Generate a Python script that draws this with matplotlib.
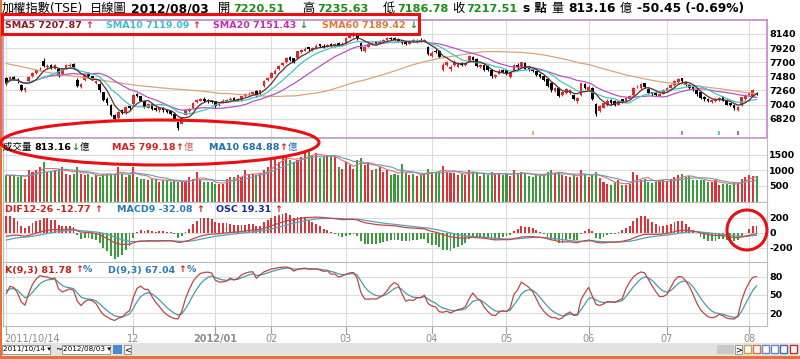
import matplotlib.pyplot as plt
from matplotlib.patches import Rectangle, Ellipse
from matplotlib.transforms import blended_transform_factory
import numpy as np
import pandas as pd

# TAIEX daily candles 2011/10/14 - 2012/08/03
open_ = [7448, 7420, 7470, 7430, 7345, 7260, 7400, 7480, 7530, 7590,
         7720, 7620, 7650, 7600, 7600, 7520, 7610, 7640, 7670, 7430,
         7320, 7420, 7520, 7480, 7380, 7360, 7230, 7130, 7040, 6880,
         6830, 6950, 6920, 7010, 7050, 7200, 7170, 7100, 6990, 7050,
         6990, 6950, 6990, 6950, 6940, 6900, 6760, 6740, 6880, 6940,
         6980, 7080, 7100, 7130, 7110, 7100, 7090, 7030, 7070, 7090,
         7110, 7140, 7100, 7110, 7170, 7190, 7210, 7250, 7200, 7330,
         7420, 7460, 7520, 7590, 7650, 7700, 7780, 7760, 7760, 7860,
         7880, 7930, 7890, 7920, 7980, 7960, 7940, 7990, 7950, 8000,
         7960, 8000, 8080, 8110, 8150, 8000, 7870, 7940, 7980, 8020,
         7990, 8020, 8040, 8080, 8070, 8060, 8040, 8010, 7990, 8040,
         8010, 8050, 8020, 7940, 7800, 7880, 7880, 7580, 7650, 7590,
         7650, 7630, 7690, 7650, 7710, 7780, 7750, 7630, 7660, 7640,
         7580, 7470, 7520, 7580, 7580, 7470, 7560, 7660, 7620, 7690,
         7610, 7600, 7560, 7520, 7480, 7440, 7380, 7250, 7300, 7190,
         7220, 7220, 7190, 7090, 7190, 7360, 7270, 7300, 7050,
         6940, 6990, 7030, 7110, 7100, 7040, 7120, 7090, 7130, 7190,
         7310, 7290, 7370, 7280, 7230, 7230, 7180, 7210, 7250, 7300,
         7340, 7390, 7450, 7390, 7340, 7320, 7270, 7230, 7150, 7130,
         7080, 7090, 7110, 7160, 7110, 7060, 7040, 6960, 7030, 7120,
         7190, 7160, 7220.51]
high = [7470, 7490, 7485, 7450, 7360, 7310, 7480, 7545, 7600, 7630,
        7760, 7670, 7665, 7665, 7610, 7610, 7670, 7690, 7690, 7450,
        7380, 7510, 7540, 7490, 7430, 7370, 7240, 7150, 7050, 6900,
        6940, 6970, 7010, 7030, 7200, 7220, 7180, 7110, 7070, 7060,
        7000, 7000, 7000, 6970, 6960, 6910, 6770, 6850, 6960, 6990,
        7080, 7130, 7140, 7150, 7120, 7110, 7100, 7080, 7120, 7130,
        7150, 7150, 7140, 7180, 7220, 7230, 7250, 7260, 7270, 7420,
        7470, 7540, 7590, 7650, 7700, 7780, 7800, 7770, 7880, 7910,
        7930, 7940, 7940, 7980, 7990, 7980, 7990, 8000, 8000, 8010,
        8010, 8100, 8140, 8170, 8160, 8010, 7950, 8010, 8020, 8030,
        8040, 8060, 8090, 8100, 8090, 8080, 8050, 8020, 8050, 8060,
        8060, 8070, 8060, 7950, 7870, 7900, 7890, 7680, 7720, 7650,
        7730, 7700, 7710, 7710, 7810, 7800, 7760, 7670, 7670, 7650,
        7590, 7520, 7590, 7600, 7590, 7550, 7670, 7680, 7710, 7700,
        7630, 7610, 7570, 7530, 7490, 7450, 7390, 7310, 7310, 7250,
        7290, 7280, 7200, 7150, 7380, 7370, 7340, 7310, 7060,
        7030, 7080, 7120, 7120, 7110, 7100, 7130, 7160, 7190, 7310,
        7340, 7380, 7380, 7290, 7240, 7240, 7220, 7280, 7310, 7360,
        7420, 7460, 7460, 7400, 7350, 7330, 7280, 7240, 7170, 7140,
        7120, 7140, 7160, 7170, 7120, 7070, 7050, 7020, 7160, 7200,
        7240, 7280, 7235.63]
low = [7350, 7405, 7415, 7380, 7250, 7230, 7390, 7470, 7520, 7570,
       7630, 7600, 7590, 7590, 7470, 7500, 7600, 7630, 7600, 7310,
       7290, 7410, 7470, 7420, 7360, 7240, 7100, 7040, 6860, 6790,
       6810, 6890, 6900, 6960, 7040, 7160, 7090, 6980, 6980, 6950,
       6940, 6930, 6930, 6910, 6880, 6790, 6640, 6730, 6870, 6920,
       6970, 7060, 7090, 7080, 7070, 7060, 6990, 7010, 7060, 7080,
       7100, 7090, 7090, 7100, 7160, 7180, 7200, 7160, 7190, 7320,
       7410, 7450, 7510, 7580, 7640, 7690, 7720, 7680, 7750, 7850,
       7870, 7880, 7880, 7910, 7930, 7920, 7930, 7950, 7940, 7950,
       7950, 7990, 8070, 8100, 8050, 7880, 7860, 7930, 7970, 7980,
       7980, 8010, 8030, 8050, 8040, 8010, 7990, 7970, 7980, 8010,
       8000, 8020, 8010, 7810, 7780, 7840, 7760, 7560, 7640, 7570,
       7640, 7620, 7640, 7640, 7700, 7730, 7620, 7610, 7560, 7570,
       7460, 7450, 7510, 7530, 7500, 7450, 7550, 7600, 7610, 7590,
       7570, 7540, 7490, 7450, 7410, 7310, 7240, 7230, 7150, 7170,
       7210, 7200, 7110, 7070, 7180, 7280, 7260, 7110, 6860,
       6920, 6980, 7020, 7040, 7020, 7030, 7060, 7080, 7120, 7180,
       7290, 7280, 7300, 7200, 7180, 7170, 7170, 7200, 7240, 7290,
       7330, 7380, 7380, 7330, 7280, 7250, 7180, 7120, 7100, 7080,
       7070, 7080, 7100, 7090, 7030, 7010, 6960, 6940, 7020, 7110,
       7180, 7150, 7186.78]
close = [7370, 7474, 7430, 7400, 7270, 7290, 7470, 7530, 7580, 7600,
         7640, 7640, 7610, 7650, 7480, 7600, 7650, 7660, 7620, 7330,
         7360, 7500, 7480, 7440, 7400, 7260, 7110, 7070, 6880, 6820,
         6930, 6910, 7000, 6980, 7190, 7180, 7100, 7000, 7050, 6970,
         6960, 6980, 6950, 6930, 6900, 6810, 6680, 6840, 6950, 6960,
         7070, 7110, 7120, 7100, 7090, 7080, 7010, 7070, 7100, 7110,
         7130, 7100, 7120, 7170, 7200, 7210, 7230, 7180, 7260, 7410,
         7450, 7530, 7570, 7640, 7680, 7760, 7740, 7700, 7870, 7890,
         7910, 7900, 7920, 7960, 7950, 7940, 7970, 7960, 7980, 7970,
         7990, 8080, 8120, 8140, 8070, 7900, 7930, 7990, 8000, 7990,
         8020, 8040, 8070, 8060, 8050, 8030, 8000, 7990, 8030, 8020,
         8040, 8030, 8040, 7830, 7850, 7860, 7780, 7660, 7700, 7630,
         7710, 7680, 7660, 7690, 7790, 7740, 7640, 7650, 7580, 7580,
         7480, 7500, 7570, 7550, 7510, 7540, 7660, 7620, 7700, 7600,
         7590, 7560, 7500, 7470, 7430, 7330, 7260, 7290, 7170, 7230,
         7280, 7260, 7130, 7140, 7370, 7300, 7320, 7130, 6900,
         7010, 7070, 7100, 7060, 7040, 7090, 7080, 7140, 7170, 7300,
         7320, 7360, 7320, 7220, 7200, 7190, 7200, 7270, 7290, 7350,
         7410, 7440, 7400, 7345, 7300, 7265, 7200, 7135, 7125, 7095,
         7105, 7125, 7143, 7100, 7040, 7030, 6980, 7001.55, 7150, 7180,
         7223.88, 7267.96, 7217.51]
# 成交量 (億)
volume = [840, 840, 840, 790, 840, 730, 1000, 950, 1000, 1110,
          1270, 950, 950, 1000, 1050, 1100, 890, 840, 890, 1110,
          890, 840, 890, 790, 840, 790, 890, 890, 890, 890,
          1110, 890, 790, 840, 1110, 790, 730, 730, 680, 730,
          730, 620, 680, 680, 620, 680, 620, 620, 620, 790,
          730, 950, 680, 620, 620, 620, 570, 570, 570, 730,
          790, 790, 840, 790, 1000, 890, 890, 840, 890, 1000,
          1110, 1320, 1380, 1270, 1430, 1490, 1320, 1270, 1320, 1430,
          1540, 1590, 1490, 1540, 1380, 1430, 1490, 1490, 1430, 1110,
          1050, 1270, 1160, 1050, 1320, 1380, 1160, 1270, 1000, 1050,
          1110, 950, 1000, 840, 890, 840, 1200, 900, 850, 880,
          820, 860, 900, 1050, 950, 900, 980, 1150, 950, 900,
          920, 850, 880, 860, 1000, 950, 900, 820, 880, 850,
          950, 870, 900, 860, 880, 830, 1000, 900, 950, 870,
          820, 800, 850, 820, 880, 950, 1000, 900, 950, 850,
          820, 800, 850, 800, 1000, 850, 780, 850, 950,
          750, 630, 570, 516, 620, 680, 516, 516, 570, 950,
          840, 700, 730, 620, 590, 620, 680, 680, 620, 730,
          790, 840, 890, 790, 810, 700, 680, 700, 680, 620,
          620, 680, 520, 570, 560, 540, 580, 602.9, 720, 800,
          840, 822.74, 813.16]
# SMA60 line on the first 59 days (its 60-day window starts before the chart)
sma60_head = [7680, 7667, 7655, 7644, 7631, 7618, 7606, 7592, 7579, 7566,
              7553, 7541, 7532, 7523, 7515, 7508, 7499, 7491, 7484, 7475,
              7467, 7459, 7451, 7443, 7433, 7424, 7416, 7406, 7397, 7389,
              7379, 7371, 7361, 7353, 7345, 7338, 7332, 7326, 7319, 7314,
              7309, 7303, 7297, 7292, 7287, 7283, 7279, 7274, 7269, 7265,
              7260, 7256, 7251, 7245, 7238, 7231, 7224, 7217, 7210]

month_pos = [0, 34, 56, 71, 91, 114, 134, 156, 177, 199]
month_lbl = ['2011/10/14', '12', '2012/01', '02', '03', '04', '05', '06', '07', '08']
event_pos = [141, 181, 191, 196]
event_col = ['#e8a040', '#c060c0', '#40c0d0', '#806080']

# indicator state just before the first day
ema12_init, ema26_init, dea_init = 7400.0, 7450.0, -110.0
k_init, d_init = 70.0, 60.0

# ---- indicators
c = pd.Series(close, dtype=float)
sma5 = c.rolling(5, min_periods=1).mean()
sma10 = c.rolling(10, min_periods=1).mean()
sma20 = c.rolling(20, min_periods=1).mean()
sma60 = c.rolling(60).mean()
sma60.iloc[:len(sma60_head)] = sma60_head

v = pd.Series(volume, dtype=float)
vma5 = v.rolling(5, min_periods=1).mean()
vma10 = v.rolling(10, min_periods=1).mean()

ema12, ema26, dea = ema12_init, ema26_init, dea_init
dif, macd = [], []
for p in close:
    ema12 += (p - ema12) * 2 / 13
    ema26 += (p - ema26) * 2 / 27
    dd = ema12 - ema26
    dea += (dd - dea) * 2 / 10
    dif.append(dd)
    macd.append(dea)
dif = np.array(dif)
macd = np.array(macd)
osc = dif - macd

h9 = pd.Series(high).rolling(9, min_periods=1).max()
l9 = pd.Series(low).rolling(9, min_periods=1).min()
rsv = (c - l9) / (h9 - l9) * 100
kk, dd = k_init, d_init
K, D = [], []
for r in rsv:
    kk = kk * 2 / 3 + r / 3
    dd = dd * 2 / 3 + kk / 3
    K.append(kk)
    D.append(dd)

# ---- figure
W, H = 800, 359
fig = plt.figure(figsize=(8, 3.59), dpi=100)
FAM = ['DejaVu Sans', 'Noto Sans CJK TC']


def px_axes(x0, y0, x1, y1):
    return fig.add_axes([x0 / W, 1 - y1 / H, (x1 - x0) / W, (y1 - y0) / H])


ax_p = px_axes(3, 19.5, 767, 138)
ax_v = px_axes(3, 138, 767, 201.5)
ax_m = px_axes(3, 201.5, 767, 262)
ax_k = px_axes(3, 262, 767, 326)

x = np.arange(len(close))
o = np.array(open_)
cl = np.array(close)
up = cl >= o
ccol = np.where(up, '#e3262e', '#000000')

for ax, yt, ylim in [(ax_p, [6820, 7040, 7260, 7480, 7700, 7920, 8140], (6518, 8366)),
                     (ax_v, [500, 1000, 1500], (0, 2035)),
                     (ax_m, [-200, 0, 200], (-387, 412)),
                     (ax_k, [20, 50, 80], (-1, 104))]:
    ax.set_xlim(-0.9, 203.8)
    ax.set_ylim(*ylim)
    ax.set_xticks(month_pos)
    ax.tick_params(axis='x', length=0, labelbottom=False)
    ax.yaxis.tick_right()
    ax.set_yticks(yt)
    ax.set_yticklabels([str(t) for t in yt], fontweight='bold', fontsize=6.8)
    ax.tick_params(axis='y', length=0, pad=1.5)
    ax.grid(True, color='#dcdcdc', lw=0.8)
    ax.set_axisbelow(True)
    for s in ax.spines.values():
        s.set_color('#bcbcbc')
        s.set_linewidth(0.8)
for s in ax_p.spines.values():
    s.set_color('#c98ccf')
    s.set_linewidth(1.3)

# price panel
ax_p.vlines(x, low, high, color=ccol, lw=0.8)
ax_p.bar(x, np.maximum(np.abs(cl - o), 4), bottom=np.minimum(o, cl), width=0.72, color=ccol)
ax_p.plot(x, sma60, color='#d9a47a', lw=0.9)
ax_p.plot(x, sma20, color='#b455c0', lw=0.9)
ax_p.plot(x, sma10, color='#45c4c8', lw=0.9)
ax_p.plot(x, sma5, color='#5a3030', lw=0.9)
ax_p.vlines(event_pos, 6560, 6630, color=event_col, lw=1.2)

# volume panel
vcol = np.where(up, '#d8343a', '#3c9a3c')
ax_v.bar(x, volume, width=0.55, color=vcol)
ax_v.plot(x, vma5, color='#e07070', lw=0.8)
ax_v.plot(x, vma10, color='#6a9ab8', lw=0.8)

# MACD panel (OSC bars drawn on their own scale, as in the source)
ax_m.bar(x, osc * 4.6, width=0.5, color=np.where(osc >= 0, '#d8343a', '#3c9a3c'))
ax_m.plot(x, macd, color='#5aa0b8', lw=0.9)
ax_m.plot(x, dif, color='#c04848', lw=0.9)

# KD panel
ax_k.plot(x, D, color='#4a9aaa', lw=0.9)
ax_k.plot(x, K, color='#b84848', lw=0.9)

ax_k.tick_params(axis='x', length=6, width=0.8, color='#a0a0a0', direction='out')
tr = blended_transform_factory(ax_k.transData, ax_k.transAxes)
for pos, lbl in zip(month_pos, month_lbl):
    if pos == 0:
        ax_k.text(-0.5, -0.2, lbl, transform=tr, ha='left', va='center', fontsize=7, color='#8c8c8c')
    else:
        ax_k.text(pos, -0.2, lbl, transform=tr, ha='center', va='center', fontsize=7,
                  color='#8c8c8c', fontweight='bold' if lbl == '2012/01' else 'normal')

# ---- texts
rend = fig.canvas.get_renderer()


def run(x0, y0, parts, size=7, gap=0):
    xx = x0
    for s, color, weight in parts:
        t = fig.text(xx / W, 1 - y0 / H, s, color=color, fontsize=size, fontweight=weight,
                     family=FAM, va='center', ha='left')
        xx += t.get_window_extent(rend).width + gap
    return xx


GREEN = '#1c8c1c'
hy = 8.5
HS = 8.8
run(2, hy, [('加權指數(TSE)', 'black', 'normal')], size=HS)
run(90, hy, [('日線圖', 'black', 'normal')], size=HS)
run(131, hy, [('2012/08/03', 'black', 'bold')], size=HS)
for xl, lab, xv, val in [(218, '開', 233, '7220.51'), (302, '高', 317, '7235.63'),
                         (383, '低', 397, '7186.78'), (452, '收', 466, '7217.51')]:
    run(xl, hy, [(lab, 'black', 'normal')], size=HS)
    run(xv, hy, [(val, GREEN, 'bold')], size=8.1)
run(523, hy, [('s 點', 'black', 'bold')], size=HS)
run(552, hy, [('量 ', 'black', 'normal'), ('813.16', 'black', 'bold'), (' 億', 'black', 'normal')], size=HS)
run(637, hy, [('-50.45 (-0.69%)', 'black', 'bold')], size=HS)

UP, DN = '↑', '↓'
RED = '#e01818'
ly = 25
for xx, lab, colr, arr in [(5, 'SMA5 7207.87 ', '#8c1a1a', UP), (106, 'SMA10 7119.09 ', '#3cc0c8', UP),
                           (213, 'SMA20 7151.43 ', '#c030b0', DN), (322, 'SMA60 7189.42 ', '#e07830', DN)]:
    run(xx, ly, [(lab, colr, 'bold'), (arr, RED if arr == UP else GREEN, 'bold')], size=6.8)

vy = 147
run(3, vy, [('成交量 ', 'black', 'normal'), ('813.16', 'black', 'bold'), (DN, GREEN, 'bold'), ('億', 'black', 'normal')], size=6.8)
run(112, vy, [('MA5 799.18', '#d42020', 'bold'), (UP, RED, 'bold'), ('億', '#d06060', 'normal')], size=6.8)
run(209, vy, [('MA10 684.88', '#1f6fb0', 'bold'), (UP, RED, 'bold'), ('億', '#1f6fb0', 'normal')], size=6.8)

my = 209
run(5, my, [('DIF12-26 -12.77 ', '#d02020', 'bold'), (UP, RED, 'bold')], size=6.8)
run(117, my, [('MACD9 -32.08 ', '#2a7ab8', 'bold'), (UP, RED, 'bold')], size=6.8)
run(216, my, [('OSC 19.31 ', '#1a2a9a', 'bold'), (UP, RED, 'bold')], size=6.8)

ky = 270
run(5, ky, [('K(9,3) 81.78 ', '#c02020', 'bold'), (UP, RED, 'bold'), ('%', '#2a7ab8', 'bold')], size=6.8)
run(108, ky, [('D(9,3) 67.04 ', '#2a7ab8', 'bold'), (UP, RED, 'bold'), ('%', '#2a7ab8', 'bold')], size=6.8)

# ---- bottom bar and frame
def prect(x0, y0, w, h, **kw):
    fig.add_artist(Rectangle((x0 / W, 1 - (y0 + h) / H), w / W, h / H, transform=fig.transFigure, **kw))


prect(0, 343, 800, 13, color='#e2e2e2', lw=0)
prect(0, 355.5, 800, 3.5, color='#e8703a', lw=0)
prect(0, 0, 1.6, 359, color='#e8703a', lw=0)
prect(2, 344.5, 48, 9.5, fc='white', ec='#8a8a8a', lw=0.6)
prect(62, 344.5, 48, 9.5, fc='white', ec='#8a8a8a', lw=0.6)
fig.text(3 / W, 1 - 349.5 / H, '2011/10/14 ▾', fontsize=5.2, va='center', ha='left')
fig.text(55 / W, 1 - 349.5 / H, '~', fontsize=6, va='center', ha='left')
fig.text(63 / W, 1 - 349.5 / H, '2012/08/03 ▾', fontsize=5.2, va='center', ha='left')
prect(113, 344.5, 9, 9, color='#4a8ad0', lw=0)
prect(124, 344.5, 7, 9.5, fc='#f4f4f4', ec='#8a8a8a', lw=0.6)
fig.text(127.5 / W, 1 - 349.5 / H, '<', fontsize=6, va='center', ha='center')
prect(717, 344.5, 17, 9.5, color='#c8c8c8', lw=0)
prect(735, 344.5, 7, 9.5, fc='#f4f4f4', ec='#8a8a8a', lw=0.6)
fig.text(738.5 / W, 1 - 349.5 / H, '>', fontsize=6, va='center', ha='center')
for xx, colr in [(744, '#d0a040'), (753, '#e07040'), (762, '#6a8ad0'), (771, '#6a8ad0'), (780, '#4a6ab0'), (790, '#c03030')]:
    prect(xx, 345, 7, 8, fc='white', ec=colr, lw=1)

# ---- red hand-drawn marks
fig.add_artist(Rectangle((2 / W, 1 - 34 / H), 417 / W, 20 / H, transform=fig.transFigure,
                         fill=False, ec='#e81010', lw=2.2))
fig.add_artist(Ellipse((160 / W, 1 - 142.5 / H), 318 / W, 45 / H, transform=fig.transFigure,
                       fill=False, ec='#e81010', lw=2.2))
fig.add_artist(Ellipse((747 / W, 1 - 230 / H), 40 / W, 40 / H, transform=fig.transFigure,
                       fill=False, ec='#e81010', lw=2.2))

fig.savefig('out.png', dpi=100)
